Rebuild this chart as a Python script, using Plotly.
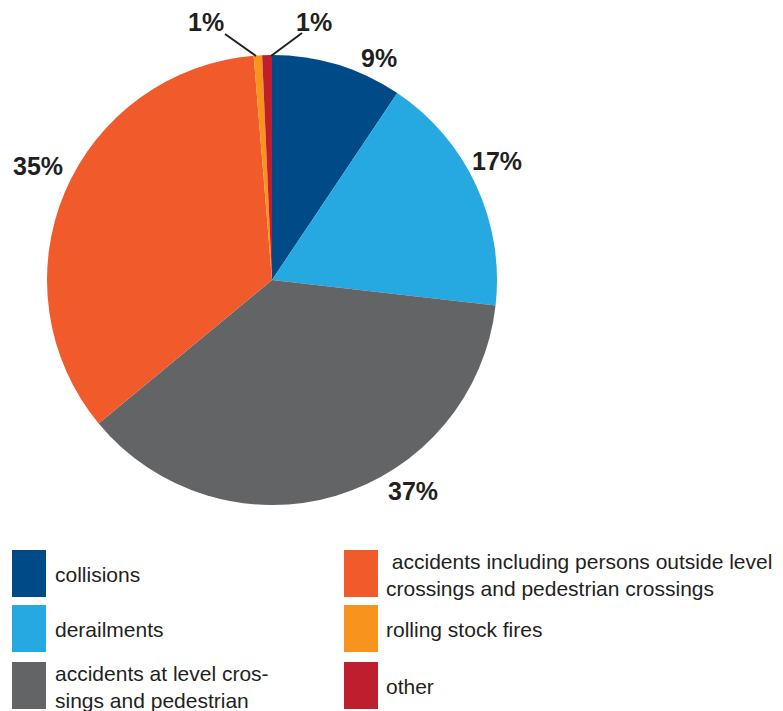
import plotly.graph_objects as go

# Share of railway accidents by type (%)
categories = [
    "collisions",
    "derailments",
    "accidents at level cros-<br>sings and pedestrian",
    " accidents including persons outside level<br>crossings and pedestrian crossings",
    "rolling stock fires",
    "other",
]
values = [9.4, 17.4, 37.2, 34.7, 0.6, 0.7]
colors = ["#004b87", "#26a9e1", "#636466", "#f15a2b", "#f7941d", "#be1e2d"]

W, H = 783, 711
total = sum(values)
pct_labels = [f"{round(v / total * 100)}%" for v in values]

def px(x):
    return x / W

def py(y):
    return 1 - y / H

fig = go.Figure(
    go.Pie(
        labels=categories,
        values=values,
        sort=False,
        direction="clockwise",
        rotation=0,
        marker=dict(colors=colors, line=dict(width=0)),
        textinfo="none",
        hoverinfo="label+percent",
        showlegend=False,
        domain=dict(x=[px(47), px(497)], y=[py(505), py(55)]),
    )
)

# Percentage labels around the pie
label_pos = [(379, 58), (497, 161), (413, 491), (38, 166), (206, 22), (314, 22)]
annotations = []
for txt, (x, y) in zip(pct_labels, label_pos):
    annotations.append(dict(
        x=px(x), y=py(y), xref="paper", yref="paper", text=f"<b>{txt}</b>",
        showarrow=False, xanchor="center", yanchor="middle",
        font=dict(family="Liberation Sans, Arial, sans-serif", size=25, color="#231f20"),
    ))

# Leader lines for the two thin slices
shapes = [
    dict(type="line", xref="paper", yref="paper", x0=px(225), y0=py(34), x1=px(256), y1=py(56),
         line=dict(color="#231f20", width=2)),
    dict(type="line", xref="paper", yref="paper", x0=px(302), y0=py(33), x1=px(271), y1=py(56),
         line=dict(color="#231f20", width=2)),
]

# Two-column legend with colour squares
legend_cols = [(12, 53), (344, 384)]
legend_rows = [(550, 597), (605, 652), (662, 709)]
for i, (name, col) in enumerate(zip(categories, colors)):
    sx, tx = legend_cols[i // 3]
    y0, y1 = legend_rows[i % 3]
    shapes.append(dict(type="rect", xref="paper", yref="paper",
                       x0=px(sx), x1=px(sx + 34), y0=py(y1), y1=py(y0),
                       fillcolor=col, line=dict(width=0)))
    annotations.append(dict(
        x=px(tx), y=py((y0 + y1) / 2 + 1), xref="paper", yref="paper", text=name,
        showarrow=False, xanchor="left", yanchor="middle", align="left",
        font=dict(family="Liberation Sans, Arial, sans-serif", size=21, color="#231f20"),
    ))

fig.update_layout(
    width=W, height=H,
    margin=dict(l=0, r=0, t=0, b=0),
    paper_bgcolor="white", plot_bgcolor="white",
    annotations=annotations, shapes=shapes,
)

fig.write_html("out.html")
